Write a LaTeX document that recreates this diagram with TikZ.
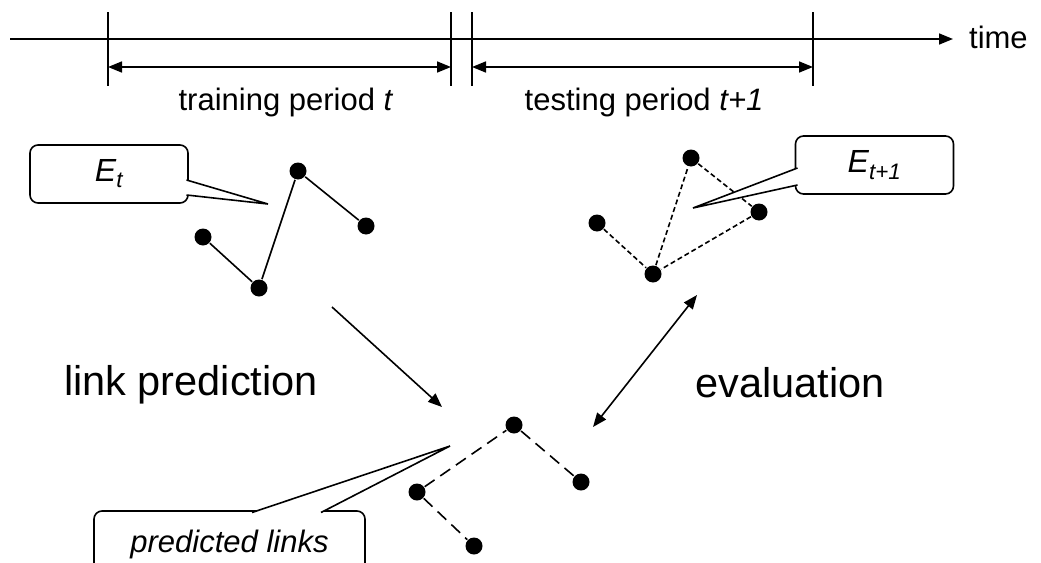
\documentclass[tikz,border=0pt]{standalone}
\usepackage{fontspec}
\setmainfont{Liberation Sans}
\usetikzlibrary{arrows.meta, positioning}

\begin{document}
\begin{tikzpicture}[x=1pt, y=-1pt, line width=1.6pt,
    dot/.style={circle, fill, inner sep=0pt, minimum size=17pt},
    bubble/.style={draw, rounded corners=8pt, fill=white, inner sep=0pt,
        minimum width=158pt, minimum height=58pt},
    lbl/.style={font=\fontsize{31}{35}\selectfont},
    big/.style={font=\fontsize{41.5}{47}\selectfont},
    tip/.style={-{Triangle[length=14pt, width=11pt]}},
    both/.style={{Triangle[length=14pt, width=11pt]}-{Triangle[length=14pt, width=11pt]}},
    fine/.style={dash pattern=on 5pt off 3pt},
    coarse/.style={dash pattern=on 12pt off 7pt}]
    \clip (0,0) rectangle (1041,562);

    % time axis
    \coordinate (t0) at (10,39);
    \coordinate (t1) at (953,39);
    \draw[tip] (t0) -- (t1);
    \node[lbl, anchor=base west] (time) at (965,48) {time};
    \foreach \x/\n in {108/a, 451/b, 472/c, 813/d} {
        \coordinate (up\n) at (\x,12);
        \coordinate (lo\n) at (\x,86);
        \draw (up\n) -- (lo\n);
        \coordinate (mid\n) at (\x,67);
    }
    \draw[both] (mida) -- (midb);
    \draw[both] (midc) -- (midd);
    \node[lbl, anchor=base] (train) at (286,110) {training period \textit{t}};
    \node[lbl, anchor=base] (test) at (644,110) {testing period \textit{t+1}};

    % links in period t
    \node[dot] (a) at (203,237) {};
    \node[dot] (b) at (259,288) {};
    \node[dot] (c) at (298,171) {};
    \node[dot] (d) at (366,226) {};
    \draw (a) -- (b) -- (c) -- (d);

    % links in period t+1
    \node[dot] (p) at (597,223) {};
    \node[dot] (q) at (653,274) {};
    \node[dot] (r) at (691,158) {};
    \node[dot] (s) at (759,212) {};
    \draw[fine] (p) -- (q) -- (r) -- (s) -- (q);

    % predicted links
    \node[dot] (u) at (514,425) {};
    \node[dot] (v) at (581,482) {};
    \node[dot] (w) at (417,492) {};
    \node[dot] (x) at (474,546) {};
    \draw[coarse] (w) -- (u) -- (v);
    \draw[coarse] (w) -- (x);

    % callouts
    \node[bubble] (et) at (109,174) {\fontsize{32}{36}\selectfont\textit{E\textsubscript{t}}};
    \coordinate (etip) at (268,204);
    \coordinate (e1) at (186.5,180);
    \coordinate (e2) at (186.5,195);
    \fill[white] (e1) -- (etip) -- (e2) -- cycle;
    \draw (e1) -- (etip) -- (e2);

    \node[bubble] (en) at (874.5,165) {\fontsize{32}{36}\selectfont\textit{E\textsubscript{t+1}}};
    \coordinate (ntip) at (693,208);
    \coordinate (n1) at (797.5,168);
    \coordinate (n2) at (797.5,185);
    \fill[white] (n1) -- (ntip) -- (n2) -- cycle;
    \draw (n1) -- (ntip) -- (n2);

    \node[bubble, minimum width=271pt, minimum height=70pt] (pl) at (229.5,546) {};
    \node[lbl, anchor=base] (pltext) at (229.5,552) {\textit{predicted links}};
    \coordinate (ptip) at (450,446);
    \coordinate (p1) at (252,512.5);
    \coordinate (p2) at (321,512.5);
    \fill[white] (p1) -- (ptip) -- (p2) -- cycle;
    \draw (p1) -- (ptip) -- (p2);

    % steps
    \coordinate (lp0) at (332,307);
    \coordinate (lp1) at (442,407);
    \draw[tip] (lp0) -- (lp1);
    \coordinate (ev0) at (697,295);
    \coordinate (ev1) at (593,427);
    \draw[both] (ev0) -- (ev1);
    \node[big, anchor=base] (lpred) at (191,395) {link prediction};
    \node[big, anchor=base] (eval) at (790,397) {evaluation};
\end{tikzpicture}
\end{document}
